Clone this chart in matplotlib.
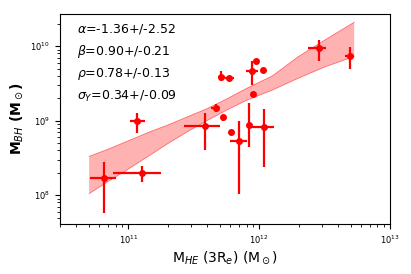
import numpy as np
import matplotlib
matplotlib.use("Agg")
import matplotlib.pyplot as plt

# log10 values
log_mhe = [10.815, 11.103, 11.069, 11.582, 11.669, 11.726, 11.782, 11.844, 11.923,
           12.036, 11.710, 11.769, 11.941, 11.977, 12.026, 11.954, 12.454, 12.692]
log_mhe_lo = [10.705, 10.885, 11.013, 11.428, 11.631, 11.716, 11.772, 11.777, 11.913,
              11.936, 11.685, 11.740, 11.897, 11.967, 12.016, 11.944, 12.372, 12.654]
log_mhe_hi = [10.905, 11.249, 11.128, 11.700, 11.700, 11.736, 11.792, 11.910, 11.933,
              12.110, 11.735, 11.805, 11.987, 11.987, 12.036, 11.964, 12.513, 12.728]
log_mbh = [8.233, 8.300, 8.989, 8.931, 9.172, 9.042, 8.846, 8.729, 8.944,
           8.917, 9.588, 9.570, 9.669, 9.794, 9.673, 9.360, 9.969, 9.866]
log_mbh_lo = [7.754, 8.170, 8.830, 8.604, 9.118, 9.000, 8.810, 8.020, 8.650,
              8.380, 9.530, 9.550, 9.480, 9.770, 9.640, 9.340, 9.800, 9.690]
log_mbh_hi = [8.447, 8.394, 9.105, 9.105, 9.217, 9.080, 8.880, 9.000, 9.240,
              9.150, 9.660, 9.590, 9.800, 9.820, 9.700, 9.380, 10.080, 9.990]

# confidence band edges (log10)
band_x = [10.70, 10.85, 11.00, 11.15, 11.30, 11.45, 11.60, 11.75, 11.90, 12.10, 12.30, 12.50, 12.726]
band_upper = [8.52, 8.62, 8.73, 8.84, 8.94, 9.05, 9.16, 9.29, 9.43, 9.60, 9.86, 10.08, 10.32]
band_lower = [8.02, 8.19, 8.35, 8.52, 8.69, 8.85, 9.00, 9.14, 9.27, 9.41, 9.57, 9.72, 9.86]

fit_text = [r"$\alpha$=-1.36+/-2.52",
            r"$\beta$=0.90+/-0.21",
            r"$\rho$=0.78+/-0.13",
            r"$\sigma_Y$=0.34+/-0.09"]

x = 10 ** np.array(log_mhe)
y = 10 ** np.array(log_mbh)
xerr = [x - 10 ** np.array(log_mhe_lo), 10 ** np.array(log_mhe_hi) - x]
yerr = [y - 10 ** np.array(log_mbh_lo), 10 ** np.array(log_mbh_hi) - y]

fig = plt.figure(figsize=(4.11, 2.74), dpi=100)
ax = fig.add_axes([0.146, 0.1825, 0.803, 0.7665])

bx = 10 ** np.array(band_x)
ax.fill_between(bx, 10 ** np.array(band_lower), 10 ** np.array(band_upper),
                facecolor="red", alpha=0.3, edgecolor="none")
ax.plot(bx, 10 ** np.array(band_upper), color="red", lw=0.6, alpha=0.5)
ax.plot(bx, 10 ** np.array(band_lower), color="red", lw=0.6, alpha=0.5)

ax.errorbar(x, y, xerr=xerr, yerr=yerr, fmt="o", color="red", ms=4,
            elinewidth=1.6, capsize=0)

ax.set_xscale("log")
ax.set_yscale("log")
ax.set_xlim(3e10, 1e13)
ax.set_ylim(4.1e7, 2.7e10)
ax.tick_params(labelsize=6)

for i, t in enumerate(fit_text):
    ax.text(0.05, 0.93 - i * 0.107, t, transform=ax.transAxes, fontsize=9, va="center")

ax.set_xlabel(r"M$_{HE}$ (3R$_e$) (M$_\odot$)", fontsize=10, labelpad=2)
ax.set_ylabel(r"M$_{BH}$ (M$_\odot$)", fontsize=10, fontweight="bold", labelpad=4)

fig.savefig("out.png", dpi=100)
